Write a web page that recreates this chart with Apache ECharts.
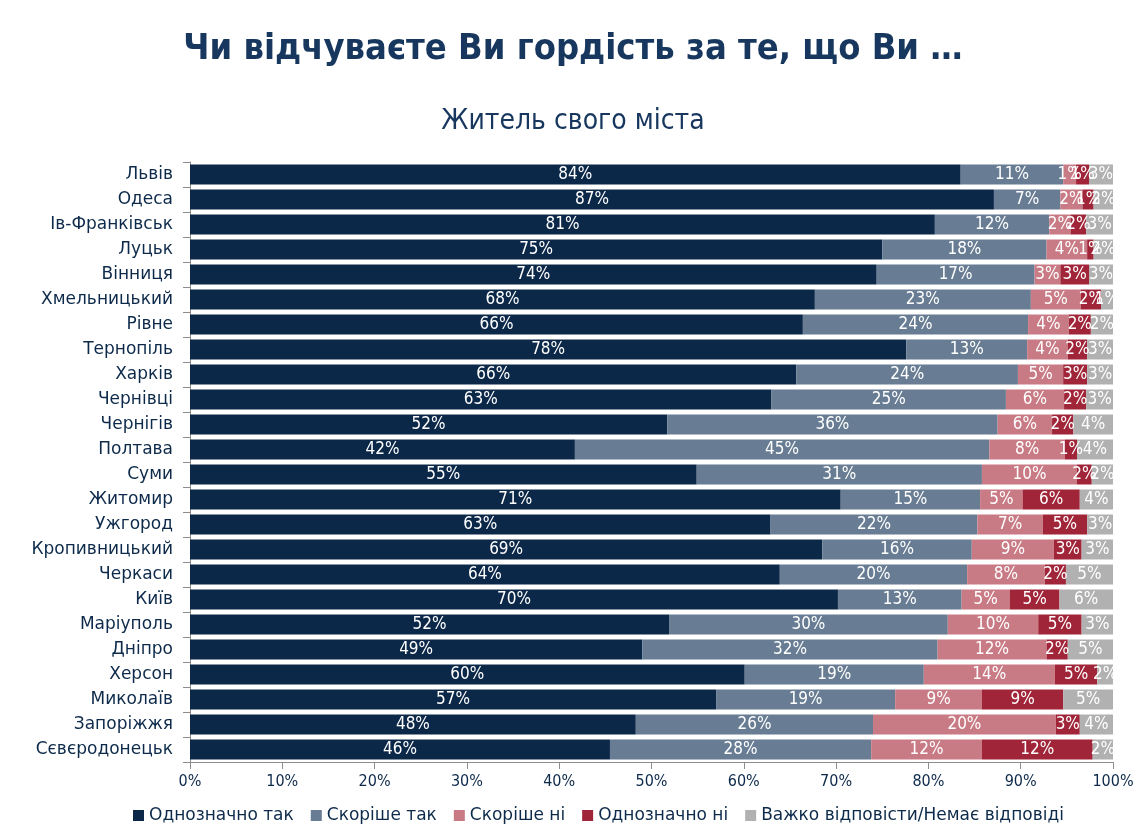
<!DOCTYPE html>
<html>
<head>
<meta charset="utf-8">
<script src="https://cdn.jsdelivr.net/npm/echarts@6/dist/echarts.min.js"></script>
<style>
html, body { margin: 0; padding: 0; background: #fff; }
#chartDiv { width: 1146px; height: 835px; }
</style>
</head>
<body>
<div id="chartDiv"></div>
<script>
let cities = ['Львів', 'Одеса', 'Ів-Франківськ', 'Луцьк', 'Вінниця', 'Хмельницький', 'Рівне', 'Тернопіль', 'Харків', 'Чернівці', 'Чернігів', 'Полтава', 'Суми', 'Житомир', 'Ужгород', 'Кропивницький', 'Черкаси', 'Київ', 'Маріуполь', 'Дніпро', 'Херсон', 'Миколаїв', 'Запоріжжя', 'Сєвєродонецьк']
let definitelyYes = [83.5, 87.1, 80.7, 75.0, 74.4, 67.7, 66.4, 77.6, 65.7, 63.0, 51.7, 41.7, 54.9, 70.5, 62.9, 68.5, 63.9, 70.2, 51.9, 49.0, 60.1, 57.0, 48.3, 45.5]
let ratherYes = [11.1, 7.2, 12.4, 17.8, 17.1, 23.4, 24.4, 13.1, 24.0, 25.4, 35.8, 44.9, 30.9, 15.1, 22.4, 16.2, 20.3, 13.4, 30.2, 32.0, 19.4, 19.4, 25.7, 28.3]
let ratherNo = [1.4, 2.4, 2.3, 4.4, 2.8, 5.4, 4.4, 4.4, 4.9, 6.3, 5.9, 8.2, 10.3, 4.6, 7.1, 8.9, 8.4, 5.2, 9.8, 11.8, 14.2, 9.4, 19.8, 12.0]
let definitelyNo = [1.4, 1.2, 1.7, 0.7, 3.1, 2.2, 2.4, 2.1, 2.6, 2.4, 2.3, 1.3, 1.6, 6.2, 4.8, 3.0, 2.3, 5.4, 4.7, 2.3, 4.6, 8.8, 2.6, 12.0]
let hardToSay = [2.6, 2.1, 2.9, 2.1, 2.6, 1.3, 2.4, 2.8, 2.8, 2.9, 4.3, 3.9, 2.3, 3.6, 2.8, 3.4, 5.1, 5.8, 3.4, 4.9, 1.7, 5.4, 3.6, 2.2]
let seriesNames = ['Однозначно так', 'Скоріше так', 'Скоріше ні', 'Однозначно ні', 'Важко відповісти/Немає відповіді']
let colors = ['#0c2849', '#687d93', '#c97b85', '#a12538', '#b1b1b1']

let narrowFont = '"DejaVu Sans Condensed", "DejaVu Sans", sans-serif'
let wideFont = '"DejaVu Sans", sans-serif'
let textColor = '#0d2a4a'

let chart = echarts.init(document.getElementById('chartDiv'))

let makeSeries = (name, data) => {
	return {
		name: name,
		type: 'bar',
		stack: 'total',
		data: data,
		barCategoryGap: '20%',
		label: {
			show: true,
			position: 'inside',
			color: '#fff',
			fontFamily: narrowFont,
			fontSize: 17,
			formatter: (p) => Math.round(p.value) + '%'
		}
	}
}

let option = {
	color: colors,
	animation: false,
	title: [{
			text: 'Чи відчуваєте Ви гордість за те, що Ви …',
			left: 'center',
			top: 27,
			textStyle: {
				color: '#17375e',
				fontFamily: narrowFont,
				fontSize: 36,
				fontWeight: 'bold'
			}
		},
		{
			text: 'Житель свого міста',
			left: 'center',
			top: 103,
			textStyle: {
				color: '#17375e',
				fontFamily: narrowFont,
				fontSize: 28,
				fontWeight: 'normal'
			}
		}
	],
	legend: {
		data: seriesNames,
		bottom: 6,
		left: 128,
		itemWidth: 11,
		itemHeight: 11,
		itemGap: 17,
		icon: 'rect',
		textStyle: {
			color: textColor,
			fontFamily: wideFont,
			fontSize: 17
		}
	},
	grid: {
		left: 190,
		right: 33,
		top: 162,
		bottom: 73
	},
	xAxis: {
		type: 'value',
		min: 0,
		max: 100,
		interval: 10,
		splitLine: { show: false },
		axisLine: { show: true, lineStyle: { color: '#8c8c8c' } },
		axisTick: { show: true, length: 7, lineStyle: { color: '#8c8c8c' } },
		axisLabel: {
			color: textColor,
			fontFamily: narrowFont,
			fontSize: 16,
			margin: 12,
			formatter: '{value}%'
		}
	},
	yAxis: {
		type: 'category',
		inverse: true,
		data: cities,
		axisLine: { show: true, lineStyle: { color: '#8c8c8c' } },
		axisTick: { show: true, length: 7, lineStyle: { color: '#8c8c8c' } },
		axisLabel: {
			color: textColor,
			fontFamily: wideFont,
			fontSize: 17,
			margin: 17
		}
	},
	series: [
		makeSeries(seriesNames[0], definitelyYes),
		makeSeries(seriesNames[1], ratherYes),
		makeSeries(seriesNames[2], ratherNo),
		makeSeries(seriesNames[3], definitelyNo),
		makeSeries(seriesNames[4], hardToSay)
	]
}

chart.setOption(option)
</script>
</body>
</html>
